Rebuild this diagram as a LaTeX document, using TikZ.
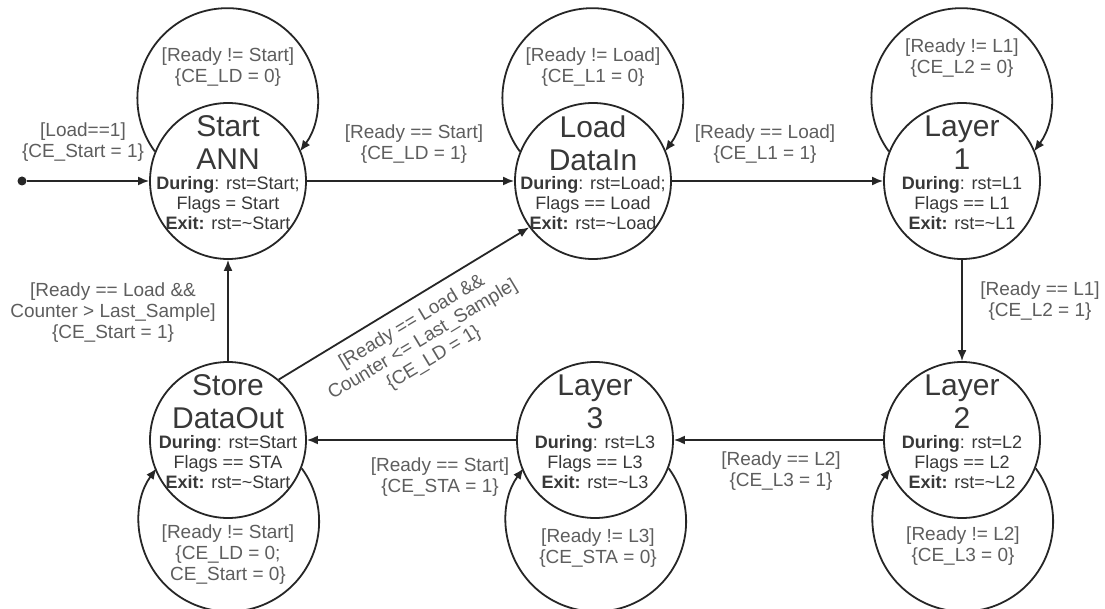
\documentclass[tikz,border=0pt]{standalone}
\usepackage{fontspec}
\setmainfont{Liberation Sans}
\usetikzlibrary{arrows.meta,calc}
\definecolor{ink}{HTML}{262626}
\definecolor{labelgray}{HTML}{5E5E5E}
\definecolor{titlegray}{HTML}{383838}

% state name + body text inside a state circle
\newcommand\statetext[3]{%
  \node[titletext] (#1-title) at ($(#1)+(0,38)$) {#2};
  \node[bodytext] (#1-body) at ($(#1)+(0,-22)$) {#3};}
% self transitions above / below a state
\newcommand\toploop[1]{\draw[tr] (#1.158.4) arc[start angle=216.3,end angle=-36.3,radius=90pt];}
\newcommand\bottomloop[1]{\draw[tr] (#1.-21.6) arc[start angle=36.3,end angle=-216.3,radius=90pt];}

\begin{document}
\begin{tikzpicture}[x=1pt,y=1pt,
  state/.style={circle,draw=ink,line width=1.8pt,minimum size=156pt,inner sep=0pt},
  titletext/.style={align=center,text=titlegray,font=\fontsize{30}{33}\selectfont,inner sep=0pt},
  bodytext/.style={align=center,text=titlegray,font=\fontsize{18}{20}\selectfont,inner sep=0pt},
  guard/.style={align=center,text=labelgray,font=\fontsize{19}{21}\selectfont,inner sep=0pt},
  tr/.style={draw=ink,line width=1.8pt,-{Latex[length=11pt,width=9pt]}},
]
\fill[white] (0,0) rectangle (1105,-609);
\useasboundingbox (0,0) rectangle (1105,-609);

% states
\node[state] (start) at (228,-181) {};
\node[state] (load)  at (593,-181) {};
\node[state] (l1)    at (962,-181) {};
\node[state] (l2)    at (962,-440) {};
\node[state] (l3)    at (595,-440) {};
\node[state] (store) at (228,-440) {};

\statetext{start}{Start\\ANN}{\textbf{During}: rst=Start;\\Flags = Start\\\textbf{Exit:} rst=\textasciitilde Start}
\statetext{load}{Load\\DataIn}{\textbf{During}: rst=Load;\\Flags == Load\\\textbf{Exit:} rst=\textasciitilde Load}
\statetext{l1}{Layer\\1}{\textbf{During}: rst=L1\\Flags == L1\\\textbf{Exit:} rst=\textasciitilde L1}
\statetext{l2}{Layer\\2}{\textbf{During}: rst=L2\\Flags == L2\\\textbf{Exit:} rst=\textasciitilde L2}
\statetext{l3}{Layer\\3}{\textbf{During}: rst=L3\\Flags == L3\\\textbf{Exit:} rst=\textasciitilde L3}
\statetext{store}{Store\\DataOut}{\textbf{During}: rst=Start\\Flags == STA\\\textbf{Exit:} rst=\textasciitilde Start}

% initial transition
\node[circle,fill=ink,minimum size=9pt,inner sep=0pt] (init) at (22,-181) {};
\draw[tr] (init) -- (start);

% transitions between states
\draw[tr] (start) -- (load);
\draw[tr] (load) -- (l1);
\draw[tr] (l1) -- (l2);
\draw[tr] (l2) -- (l3);
\draw[tr] (l3) -- (store);
\draw[tr] (store) -- (start);
\draw[tr] (store.50) -- (load.216);

% self transitions
\toploop{start}
\toploop{load}
\toploop{l1}
\bottomloop{l2}
\bottomloop{l3}
\bottomloop{store}

% guards and actions
\node[guard] (g-init) at (83,-142) {[Load==1]\\\{CE\_Start = 1\}};
\node[guard] (g-start-self) at (228,-67) {[Ready != Start]\\\{CE\_LD = 0\}};
\node[guard] (g-start-load) at (414,-144) {[Ready == Start]\\\{CE\_LD = 1\}};
\node[guard] (g-load-self) at (593,-67) {[Ready != Load]\\\{CE\_L1 = 0\}};
\node[guard] (g-load-l1) at (765,-144) {[Ready == Load]\\\{CE\_L1 = 1\}};
\node[guard] (g-l1-self) at (962,-58) {[Ready != L1]\\\{CE\_L2 = 0\}};
\node[guard] (g-l1-l2) at (1040,-301) {[Ready == L1]\\\{CE\_L2 = 1\}};
\node[guard] (g-store-start) at (113,-313) {[Ready == Load \&\&\\Counter > Last\_Sample]\\\{CE\_Start = 1\}};
\node[guard,rotate=31] (g-store-load) at (423,-340) {[Ready == Load \&\&\\Counter <= Last\_Sample]\\\{CE\_LD = 1\}};
\node[guard] (g-l3-store) at (440,-477) {[Ready == Start]\\\{CE\_STA = 1\}};
\node[guard] (g-l2-l3) at (781,-471) {[Ready == L2]\\\{CE\_L3 = 1\}};
\node[guard] (g-store-self) at (228,-555) {[Ready != Start]\\\{CE\_LD = 0;\\CE\_Start = 0\}};
\node[guard] (g-l3-self) at (598,-548) {[Ready != L3]\\\{CE\_STA = 0\}};
\node[guard] (g-l2-self) at (963,-546) {[Ready != L2]\\\{CE\_L3 = 0\}};
\end{tikzpicture}
\end{document}
